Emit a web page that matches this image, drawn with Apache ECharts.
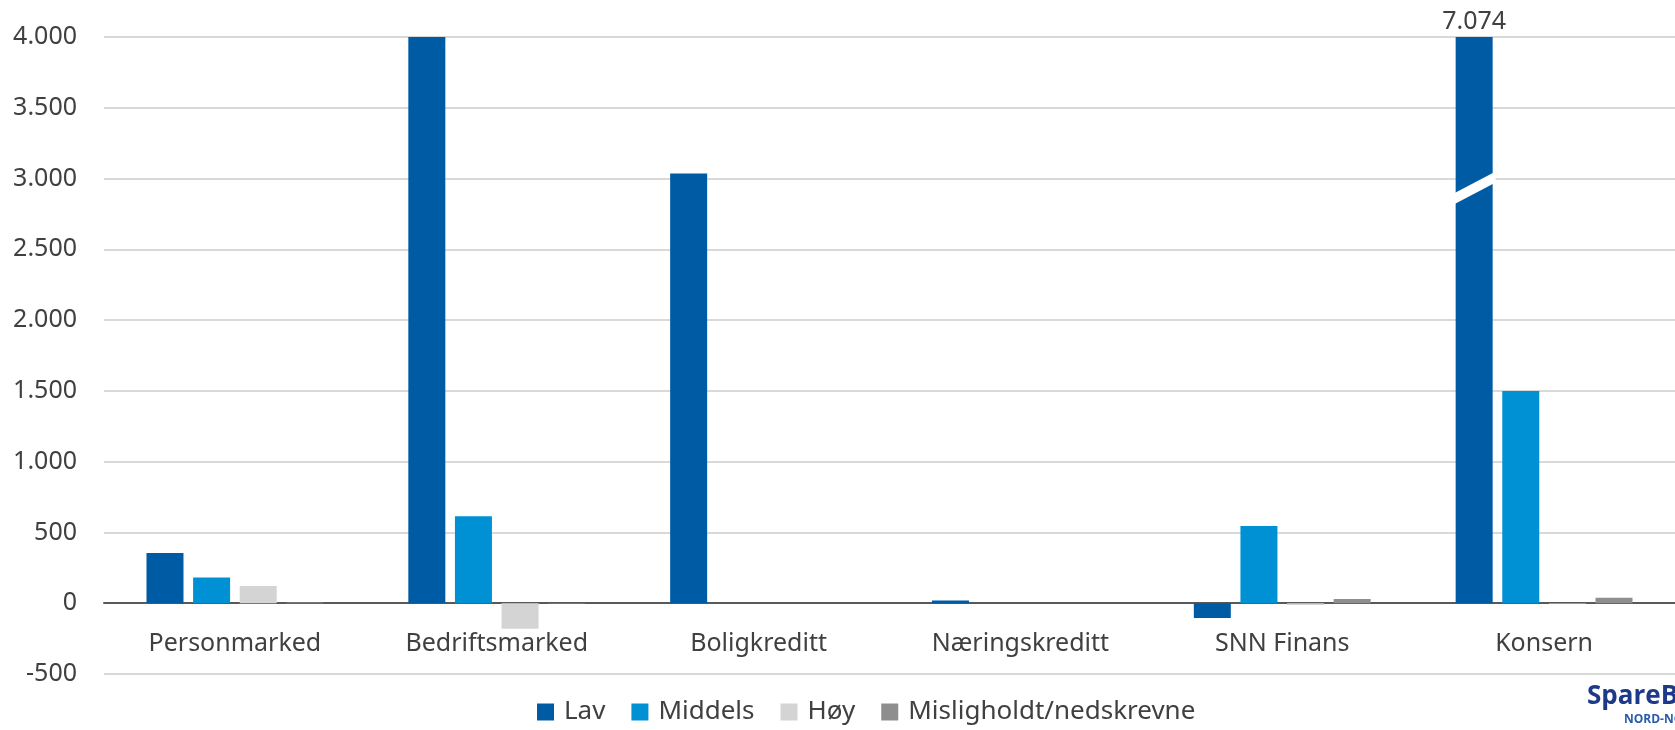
<!DOCTYPE html>
<html>
<head>
<meta charset="utf-8">
<script src="https://cdn.jsdelivr.net/npm/echarts@6/dist/echarts.min.js"></script>
<style>
    html, body { margin: 0; padding: 0; background: #fff; }
    #chart { width: 1675px; height: 730px; }
</style>
</head>
<body>
<div id="chart"></div>
<script>
    // kategorier og verdier (mill. kr)
    const categories = ['Personmarked', 'Bedriftsmarked', 'Boligkreditt', 'Næringskreditt', 'SNN Finans', 'Konsern'];
    const lav = [355, 4000, 3035, 20, -105, 7074];
    const middels = [182, 614, 0, 0, 545, 1500];
    const hoy = [121, -180, 0, 0, -12, -4];
    const mislighold = [5, -3, 0, 0, 30, 38];
    const seriesNames = ['Lav', 'Middels', 'Høy', 'Misligholdt/nedskrevne'];
    const colors = ['#005BA5', '#0091D5', '#D4D4D4', '#8E8E8E'];
    const yTicks = { min: -500, max: 4000, interval: 500 };

    const font = 'Noto Sans';
    const textColor = '#404040';

    function fmt(v) {
        return String(v).replace(/\B(?=(\d{3})+(?!\d))/g, '.');
    }

    let chart = echarts.init(document.getElementById('chart'));

    // Konsern Lav er høyere enn aksen, vis verdien over søylen
    let lavData = lav.map(function (v) {
        if (v > yTicks.max) {
            return {
                value: v,
                label: {
                    show: true,
                    position: 'top',
                    distance: 3,
                    formatter: function (p) { return fmt(p.value); },
                    fontFamily: font,
                    fontSize: 25,
                    color: textColor
                }
            };
        }
        return v;
    });

    let allData = [lavData, middels, hoy, mislighold];

    let option = {
        animation: false,
        textStyle: { fontFamily: font },
        grid: {
            left: 104,
            top: 37,
            width: 1582,
            bottom: 56
        },
        legend: {
            bottom: 0,
            left: 532,
            itemWidth: 17,
            itemHeight: 17,
            itemGap: 26,
            icon: 'rect',
            textStyle: {
                fontFamily: font,
                fontSize: 26,
                color: textColor,
                padding: [0, 0, 0, 5]
            },
            data: seriesNames
        },
        xAxis: {
            type: 'category',
            data: categories,
            axisTick: { show: false },
            axisLine: {
                onZero: false,
                lineStyle: { color: '#595959', width: 2 }
            },
            axisLabel: {
                margin: 28,
                fontFamily: font,
                fontSize: 25,
                color: textColor
            }
        },
        yAxis: {
            type: 'value',
            min: yTicks.min,
            max: yTicks.max,
            interval: yTicks.interval,
            axisLine: { show: false },
            axisTick: { show: false },
            splitLine: { lineStyle: { color: '#D9D9D9', width: 2 } },
            axisLabel: {
                margin: 27,
                fontFamily: font,
                fontSize: 25,
                color: textColor,
                formatter: fmt
            }
        },
        series: seriesNames.map(function (name, i) {
            return {
                name: name,
                type: 'bar',
                data: allData[i],
                barWidth: 37,
                barGap: '26%',
                clip: true,
                itemStyle: { color: colors[i] }
            };
        })
    };

    chart.setOption(option);

    // flytt kategoriaksen (linje + etiketter) opp til 0-linjen
    let yBottom = chart.convertToPixel({ yAxisIndex: 0 }, yTicks.min);
    let yZero = chart.convertToPixel({ yAxisIndex: 0 }, 0);
    chart.setOption({ xAxis: { offset: yZero - yBottom } });

    // bruddmarkering på Konsern Lav + logo
    let idx = lav.findIndex(function (v) { return v > yTicks.max; });
    let graphics = [];
    if (idx >= 0) {
        let layout = chart.getModel().getSeriesByIndex(0).getData().getItemLayout(idx);
        let yc = chart.convertToPixel({ yAxisIndex: 0 }, 2930);
        let x0 = layout.x - 1;
        let x1 = layout.x + layout.width + 3;
        let slope = 20 / 38;
        let yL = yc + 10;
        let yR = yL - slope * (x1 - x0);
        graphics.push({
            type: 'polygon',
            shape: { points: [[x0, yL - 5.5], [x1, yR - 5.5], [x1, yR + 5.5], [x0, yL + 5.5]] },
            style: { fill: '#fff' },
            z: 100
        });
    }
    graphics.push({
        type: 'text',
        left: 1587,
        top: 684,
        style: {
            text: 'SpareBank 1',
            fontFamily: 'Open Sans',
            fontWeight: 'bold',
            fontSize: 26,
            fill: '#1C3A87'
        }
    });
    graphics.push({
        type: 'text',
        left: 1624,
        top: 714,
        style: {
            text: 'NORD-NORGE',
            fontFamily: 'Open Sans',
            fontWeight: 'bold',
            fontSize: 12,
            fill: '#2A5BA8'
        }
    });
    chart.setOption({ graphic: graphics });
</script>
</body>
</html>
